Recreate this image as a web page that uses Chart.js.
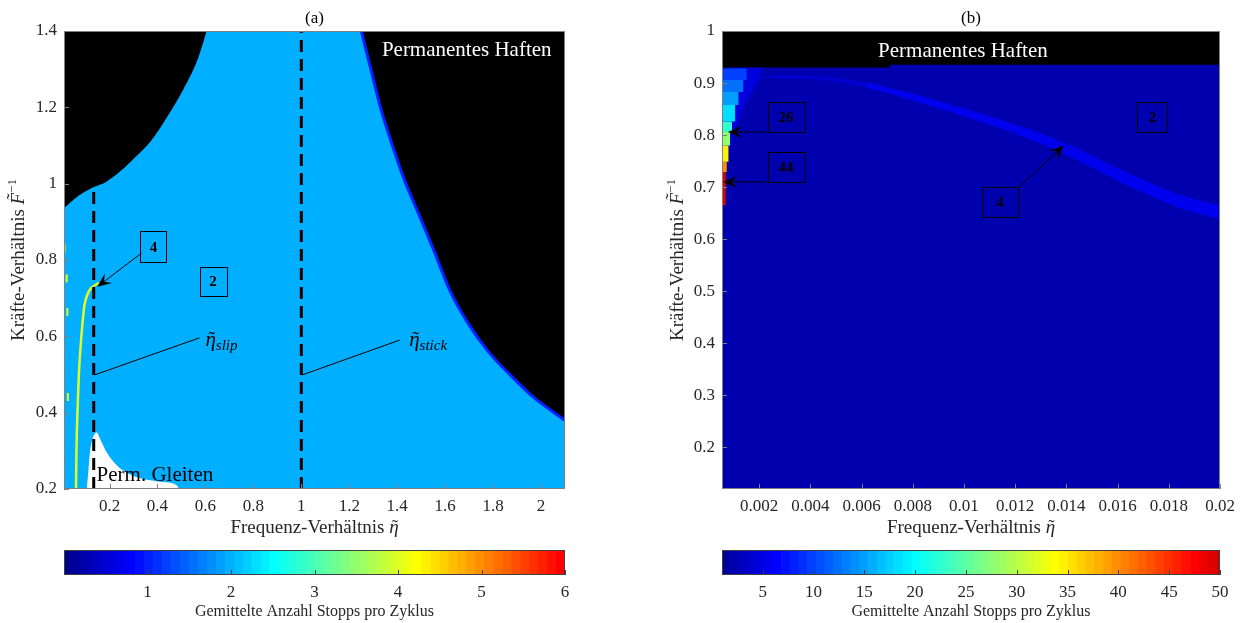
<!DOCTYPE html>
<html>
<head>
<meta charset="utf-8">
<script src="https://cdn.jsdelivr.net/npm/chart.js@4.4.0/dist/chart.umd.min.js"></script>
<style>
  body { margin: 0; background: #fff; width: 1245px; height: 623px; position: relative; overflow: hidden; }
  .pane { position: absolute; }
</style>
</head>
<body>
<div class="pane" style="left:0;top:0;width:620px;height:541px"><canvas id="chartA"></canvas></div>
<div class="pane" style="left:620px;top:0;width:625px;height:541px"><canvas id="chartB"></canvas></div>
<div class="pane" style="left:0;top:540px;width:620px;height:83px"><canvas id="barA"></canvas></div>
<div class="pane" style="left:620px;top:540px;width:625px;height:83px"><canvas id="barB"></canvas></div>
<script>
// ---------- panel (a) ----------
const etaRangeA = [0.01, 2.1];
const forceRangeA = [0.2, 1.4];
const xTicksA = [0.2, 0.4, 0.6, 0.8, 1, 1.2, 1.4, 1.6, 1.8, 2];
const yTicksA = [0.2, 0.4, 0.6, 0.8, 1, 1.2, 1.4];
const stopsBgA = 2;          // stops per cycle in the big region
const stopsEdgeA = 1;        // thin edge next to permanent sticking
const stopsLineA = 4;        // the 4-stop line near small eta
// boundary permanent sticking, left part
const haftenLeftX = [0.01, 0.075, 0.134, 0.184, 0.242, 0.308, 0.375, 0.44, 0.506, 0.57, 0.605];
const haftenLeftY = [0.936, 0.97, 0.991, 1.004, 1.031, 1.07, 1.114, 1.175, 1.245, 1.33, 1.4];
// boundary permanent sticking, right part
const haftenRightX = [1.25, 1.29, 1.33, 1.38, 1.43, 1.49, 1.55, 1.62, 1.70, 1.78, 1.87, 1.97, 2.1];
const haftenRightY = [1.4, 1.30, 1.20, 1.10, 1.01, 0.92, 0.83, 0.72, 0.63, 0.56, 0.50, 0.44, 0.38];
// permanent sliding (white)
const gleitenX = [0.105, 0.112, 0.118, 0.128, 0.146, 0.165, 0.19, 0.23, 0.274, 0.33, 0.41, 0.48, 0.49];
const gleitenY = [0.2, 0.25, 0.294, 0.329, 0.348, 0.325, 0.294, 0.262, 0.242, 0.228, 0.219, 0.21, 0.2];
// 4-stop line
const line4X = [0.06, 0.062, 0.066, 0.072, 0.08, 0.088, 0.095, 0.105, 0.118, 0.135, 0.155];
const line4Y = [0.2, 0.3, 0.4, 0.5, 0.58, 0.64, 0.68, 0.705, 0.722, 0.732, 0.74];
const dots4X = [0.0125, 0.021, 0.024, 0.026];
const dots4Y = [0.83, 0.752, 0.664, 0.441];
// eta_slip and eta_stick
const slipX = [0.134, 0.134];
const slipY = [0.2, 0.99];
const stickX = [1, 1];
const stickY = [0.2, 1.4];

// ---------- panel (b) ----------
const etaRangeB = [0.00055, 0.02];
const forceRangeB = [0.12, 1];
const xTicksB = [0.002, 0.004, 0.006, 0.008, 0.01, 0.012, 0.014, 0.016, 0.018, 0.02];
const yTicksB = [0.2, 0.3, 0.4, 0.5, 0.6, 0.7, 0.8, 0.9, 1];
const stopsBgB = 2;
const stopsStripeB = [4, 4, 4, 5.5, 5.5, 5.5, 5.5, 5.5, 5.5, 5.5, 5.5];
const stopsCornerB = 5;
const haftenBX = [0.00055, 0.0071, 0.0071, 0.02];
const haftenBY = [0.93, 0.93, 0.935, 0.935];
const stripeX = [0.0006, 0.0028, 0.0046, 0.0062, 0.0077, 0.0097, 0.0121, 0.0139, 0.0159, 0.0183, 0.02];
const stripeY = [0.906, 0.912, 0.909, 0.896, 0.877, 0.848, 0.81, 0.775, 0.727, 0.675, 0.651];
const cornerX = [0.00081, 0.001, 0.0012, 0.00145, 0.00172, 0.00198, 0.0021, 0.0023];
const cornerY = [0.76, 0.8, 0.826, 0.858, 0.883, 0.906, 0.925, 0.93];
// many-stop cells at the left edge
const wedgeRight = [0.00152, 0.00139, 0.0012, 0.00107, 0.00094, 0.00087, 0.00081, 0.00074, 0.0007];
const wedgeTop = [0.928, 0.906, 0.883, 0.858, 0.826, 0.806, 0.78, 0.749, 0.729];
const wedgeBottom = [0.906, 0.883, 0.858, 0.826, 0.806, 0.78, 0.749, 0.729, 0.665];
const wedgeStops = [10, 12, 15, 18, 23, 28, 35, 40, 49];

// ---------- colour bars ----------
const cmapTopA = 6.86;   // jet(64) spans 0..6.86, bar shows 0..6
const cmapTopB = 54.8;   // jet(64) spans 0..54.8, bar shows 1..50
const cbRangeA = [0, 6];
const cbRangeB = [1, 50];
const cbTicksA = [1, 2, 3, 4, 5, 6];
const cbTicksB = [5, 10, 15, 20, 25, 30, 35, 40, 45, 50];

const FONT = "'Liberation Serif','DejaVu Serif',serif";
const INK = '#262626';
Chart.defaults.font.family = FONT;
Chart.defaults.color = INK;
Chart.defaults.animation = false;

function jet(t) {
  const c = v => Math.round(255 * Math.min(1, Math.max(0, v)));
  return 'rgb(' + c(1.5 - Math.abs(4 * t - 3)) + ',' + c(1.5 - Math.abs(4 * t - 2)) + ',' + c(1.5 - Math.abs(4 * t - 1)) + ')';
}
function stopColor(v, top) {
  let k = Math.floor(v / top * 64);
  k = Math.min(63, Math.max(0, k));
  return jet((k + 1) / 64);
}
function pts(xs, ys) { return xs.map((x, i) => ({x: x, y: ys[i]})); }
function fixTicks(list) { return s => { s.ticks = list.map(v => ({value: v})); }; }
function fmt(v) { return String(+v.toFixed(4)); }

// text made of pieces: accents sit centred over the piece before them
function drawRich(ctx, parts, x, y, align) {
  let total = 0;
  parts.forEach(p => { if (!p.accent) { ctx.font = p.font; total += ctx.measureText(p.t).width; } });
  let cx = align === 'center' ? x - total / 2 : x;
  let lastStart = cx, lastW = 0;
  ctx.textBaseline = 'alphabetic';
  parts.forEach(p => {
    ctx.font = p.font;
    const w = ctx.measureText(p.t).width;
    if (p.accent) {
      ctx.textAlign = 'center';
      ctx.fillText(p.t, lastStart + lastW / 2 + (p.dx || 0), y + (p.dy || 0));
    } else {
      ctx.textAlign = 'left';
      ctx.fillText(p.t, cx, y + (p.dy || 0));
      lastStart = cx; lastW = w; cx += w;
    }
  });
}
const xTitleParts = [
  {t: 'Frequenz-Verh\u00e4ltnis ', font: '19px ' + FONT},
  {t: '\u03B7', font: 'italic 19px ' + FONT},
  {t: '\u02DC', font: '19px ' + FONT, accent: true, dx: 1}
];
const yTitleParts = [
  {t: 'Kr\u00e4fte-Verh\u00e4ltnis ', font: '19px ' + FONT},
  {t: 'F', font: 'italic 19px ' + FONT},
  {t: '\u02DC', font: '19px ' + FONT, accent: true, dx: 2, dy: -4},
  {t: '\u22121', font: '13px ' + FONT, dy: -8}
];

const notesPlugin = {
  id: 'notes',
  beforeDraw(chart, args, opts) {
    const a = chart.chartArea, ctx = chart.ctx;
    if (!opts.bg) return;
    ctx.save();
    ctx.fillStyle = opts.bg;
    ctx.fillRect(a.left, a.top, a.width, a.height);
    ctx.restore();
  },
  afterDatasetsDraw(chart, args, opts) {
    const ctx = chart.ctx, a = chart.chartArea;
    const sx = chart.scales.x, sy = chart.scales.y;
    const X = v => sx.getPixelForValue(v), Y = v => sy.getPixelForValue(v);
    ctx.save();
    // frame and inward ticks
    ctx.strokeStyle = '#808080';
    ctx.lineWidth = 1;
    ctx.strokeRect(a.left + 0.5, a.top + 0.5, a.width - 1, a.height - 1);
    ctx.beginPath();
    sx.ticks.forEach(t => { const p = Math.round(X(t.value)) + 0.5; ctx.moveTo(p, a.bottom); ctx.lineTo(p, a.bottom - 5); });
    sy.ticks.forEach(t => { const p = Math.round(Y(t.value)) + 0.5; ctx.moveTo(a.left, p); ctx.lineTo(a.left + 5, p); });
    ctx.stroke();
    // leader lines
    ctx.strokeStyle = '#000';
    ctx.lineWidth = 1;
    (opts.leaders || []).forEach(l => {
      ctx.beginPath();
      ctx.moveTo(X(l.from[0]), Y(l.from[1]));
      ctx.lineTo(X(l.to[0]), Y(l.to[1]));
      ctx.stroke();
    });
    // arrows
    (opts.arrows || []).forEach(ar => {
      const x0 = X(ar.from[0]), y0 = Y(ar.from[1]), x1 = X(ar.to[0]), y1 = Y(ar.to[1]);
      const ang = Math.atan2(y1 - y0, x1 - x0);
      const L = 14, W = 6;
      const nxp = x1 - Math.cos(ang) * L * 0.6, nyp = y1 - Math.sin(ang) * L * 0.6;
      ctx.beginPath();
      ctx.moveTo(x0, y0);
      ctx.lineTo(nxp, nyp);
      ctx.stroke();
      const bx = x1 - Math.cos(ang) * L, by = y1 - Math.sin(ang) * L;
      const nx = -Math.sin(ang) * W, ny = Math.cos(ang) * W;
      ctx.beginPath();
      ctx.moveTo(x1, y1);
      ctx.lineTo(bx + nx, by + ny);
      ctx.lineTo(nxp, nyp);
      ctx.lineTo(bx - nx, by - ny);
      ctx.closePath();
      ctx.fillStyle = '#000';
      ctx.fill();
    });
    // boxed numbers
    (opts.boxes || []).forEach(b => {
      const cx = X(b.x), cy = Y(b.y);
      ctx.strokeStyle = '#000';
      ctx.strokeRect(Math.round(cx - b.w / 2) + 0.5, Math.round(cy - b.h / 2) + 0.5, b.w, b.h);
      ctx.fillStyle = '#000';
      ctx.font = 'bold 15px ' + FONT;
      ctx.textAlign = 'center';
      ctx.textBaseline = 'middle';
      ctx.fillText(b.text, cx, cy + 1);
    });
    // free text
    (opts.texts || []).forEach(t => {
      ctx.fillStyle = t.color;
      ctx.font = t.size + 'px ' + FONT;
      ctx.textAlign = t.align;
      ctx.textBaseline = 'alphabetic';
      ctx.fillText(t.text, X(t.x), Y(t.y));
    });
    // eta with tilde and subscript
    ctx.fillStyle = '#000';
    (opts.etas || []).forEach(t => {
      drawRich(ctx, [
        {t: '\u03B7', font: 'italic 21px ' + FONT},
        {t: '\u02DC', font: '21px ' + FONT, accent: true, dx: 1},
        {t: t.sub, font: 'italic 15px ' + FONT, dy: 4}
      ], X(t.x), Y(t.y), 'left');
    });
    ctx.restore();
  },
  afterDraw(chart, args, opts) {
    const ctx = chart.ctx, a = chart.chartArea;
    ctx.save();
    ctx.fillStyle = '#000';
    // panel title
    ctx.font = '17px ' + FONT;
    ctx.textAlign = 'center';
    ctx.textBaseline = 'middle';
    ctx.fillText(opts.title, (a.left + a.right) / 2, a.top - 12);
    // axis titles
    ctx.fillStyle = INK;
    drawRich(ctx, xTitleParts, (a.left + a.right) / 2, 533, 'center');
    ctx.translate(opts.yTitleX, (a.top + a.bottom) / 2);
    ctx.rotate(-Math.PI / 2);
    drawRich(ctx, yTitleParts, 0, 6, 'center');
    ctx.restore();
  }
};

function axisOptions(range, ticks, afterFit) {
  return {
    type: 'linear', min: range[0], max: range[1],
    afterBuildTicks: fixTicks(ticks),
    afterFit: afterFit,
    grid: {display: false, drawTicks: false},
    border: {display: false},
    ticks: {callback: fmt, font: {size: 17}, padding: 7, maxRotation: 0, autoSkip: false},
    title: {display: false}
  };
}

const lineBase = {pointRadius: 0, borderWidth: 0, tension: 0, fill: false};
const smooth = {cubicInterpolationMode: 'monotone'};

// ---------- chart (a) ----------
const colA = v => stopColor(v, cmapTopA);
new Chart(document.getElementById('chartA'), {
  type: 'line',
  data: {
    datasets: [
      Object.assign({}, lineBase, {data: pts(slipX, slipY), borderColor: '#000', borderWidth: 3, borderDash: [12, 7], order: 1}),
      Object.assign({}, lineBase, {data: pts(stickX, stickY), borderColor: '#000', borderWidth: 3, borderDash: [12, 7], order: 1}),
      Object.assign({}, lineBase, smooth, {data: pts(line4X, line4Y), borderColor: colA(stopsLineA), borderWidth: 2.5, order: 5}),
      Object.assign({}, lineBase, {data: pts(dots4X, dots4Y), showLine: false, pointStyle: 'line', rotation: 90,
        pointRadius: 4, pointBorderWidth: 2, pointBorderColor: colA(stopsLineA), order: 5}),
      Object.assign({}, lineBase, smooth, {data: pts(gleitenX, gleitenY), fill: 'start', backgroundColor: '#fff', order: 8}),
      Object.assign({}, lineBase, smooth, {data: pts(haftenRightX, haftenRightY), borderColor: colA(stopsEdgeA), borderWidth: 3, order: 9}),
      Object.assign({}, lineBase, smooth, {data: pts(haftenRightX, haftenRightY), fill: 'end', backgroundColor: '#000', order: 10}),
      Object.assign({}, lineBase, smooth, {data: pts(haftenLeftX, haftenLeftY), fill: 'end', backgroundColor: '#000', order: 10})
    ]
  },
  options: {
    responsive: true, maintainAspectRatio: false,
    layout: {padding: {left: 0, right: 55, top: 31, bottom: 0}},
    scales: {
      x: axisOptions(etaRangeA, xTicksA, s => { s.height = 52; }),
      y: axisOptions(forceRangeA, yTicksA, s => { s.width = 64; })
    },
    plugins: {
      legend: {display: false}, tooltip: {enabled: false},
      notes: {
        bg: colA(stopsBgA),
        title: '(a)',
        yTitleX: 18,
        leaders: [{from: [0.138, 0.499], to: [0.575, 0.596]}, {from: [1.004, 0.499], to: [1.41, 0.59]}],
        arrows: [{from: [0.333, 0.818], to: [0.149, 0.73]}],
        boxes: [{text: '4', x: 0.383, y: 0.835, w: 26, h: 31}, {text: '2', x: 0.632, y: 0.744, w: 27, h: 29}],
        texts: [
          {text: 'Permanentes Haften', x: 1.69, y: 1.335, size: 21, color: '#fff', align: 'center'},
          {text: 'Perm. Gleiten', x: 0.146, y: 0.221, size: 21, color: '#000', align: 'left'}
        ],
        etas: [{sub: 'slip', x: 0.6, y: 0.575}, {sub: 'stick', x: 1.45, y: 0.575}]
      }
    }
  },
  plugins: [notesPlugin]
});

// ---------- chart (b) ----------
const colB = v => stopColor(v, cmapTopB);
const wedgeSets = wedgeRight.map((r, i) => Object.assign({}, lineBase, {
  data: [{x: etaRangeB[0], y: wedgeTop[i]}, {x: r, y: wedgeTop[i]}],
  fill: {value: wedgeBottom[i]}, backgroundColor: colB(wedgeStops[i]), order: 20
}));
new Chart(document.getElementById('chartB'), {
  type: 'line',
  data: {
    datasets: [
      Object.assign({}, lineBase, {data: pts(haftenBX, haftenBY), fill: 'end', backgroundColor: '#000', order: 10})
    ].concat(wedgeSets, [
      Object.assign({}, lineBase, smooth, {data: pts(cornerX, cornerY), fill: 'end', backgroundColor: colB(stopsCornerB), order: 30}),
      Object.assign({}, lineBase, smooth, {data: pts(stripeX, stripeY), borderColor: colB(5.5), borderWidth: 2, order: 40,
        segment: {
          borderWidth: c => 2 + c.p0DataIndex * 1.2,
          borderColor: c => colB(stopsStripeB[c.p0DataIndex])
        }})
    ])
  },
  options: {
    responsive: true, maintainAspectRatio: false,
    layout: {padding: {left: 40, right: 25, top: 31, bottom: 0}},
    scales: {
      x: axisOptions(etaRangeB, xTicksB, s => { s.height = 52; }),
      y: axisOptions(forceRangeB, yTicksB, s => { s.width = 62; })
    },
    plugins: {
      legend: {display: false}, tooltip: {enabled: false},
      notes: {
        bg: colB(stopsBgB),
        title: '(b)',
        yTitleX: 57,
        arrows: [
          {from: [0.0023, 0.806], to: [0.00078, 0.806]},
          {from: [0.0023, 0.71], to: [0.0006, 0.71]},
          {from: [0.01215, 0.7], to: [0.0139, 0.78]}
        ],
        boxes: [
          {text: '26', x: 0.00305, y: 0.834, w: 37, h: 30},
          {text: '44', x: 0.00305, y: 0.738, w: 37, h: 30},
          {text: '2', x: 0.01736, y: 0.834, w: 30, h: 30},
          {text: '4', x: 0.0114, y: 0.671, w: 36, h: 30}
        ],
        texts: [{text: 'Permanentes Haften', x: 0.00996, y: 0.95, size: 21, color: '#fff', align: 'center'}]
      }
    }
  },
  plugins: [notesPlugin]
});

// ---------- colour bars ----------
const cbPlugin = {
  id: 'cbFrame',
  afterDatasetsDraw(chart) {
    const ctx = chart.ctx, a = chart.chartArea, sx = chart.scales.x;
    ctx.save();
    ctx.strokeStyle = '#404040';
    ctx.lineWidth = 1;
    ctx.strokeRect(a.left + 0.5, a.top + 0.5, a.width - 1, a.height - 1);
    ctx.beginPath();
    sx.ticks.forEach(t => { const p = Math.round(sx.getPixelForValue(t.value)) + 0.5; ctx.moveTo(p, a.bottom); ctx.lineTo(p, a.bottom - 5); });
    ctx.stroke();
    ctx.restore();
  }
};
function colourBar(id, top, range, ticks, pad) {
  const w = top / 64;
  const bands = [], colours = [];
  for (let k = 0; k < 64; k++) { bands.push({x: (k + 0.5) * w, y: 1}); colours.push(jet((k + 1) / 64)); }
  new Chart(document.getElementById(id), {
    type: 'bar',
    data: {datasets: [{data: bands, backgroundColor: colours, borderWidth: 0, barPercentage: 1, categoryPercentage: 1}]},
    options: {
      responsive: true, maintainAspectRatio: false,
      layout: {padding: pad},
      scales: {
        x: {type: 'linear', min: range[0], max: range[1], offset: false,
          afterBuildTicks: fixTicks(ticks), afterFit: s => { s.height = 48; },
          grid: {display: false, drawTicks: false}, border: {display: false},
          ticks: {font: {size: 17}, padding: 7, maxRotation: 0, autoSkip: false},
          title: {display: true, text: 'Gemittelte Anzahl Stopps pro Zyklus', font: {size: 16}, color: INK, padding: {top: 0, bottom: 2}}},
        y: {display: false, min: 0, max: 1}
      },
      plugins: {legend: {display: false}, tooltip: {enabled: false}}
    },
    plugins: [cbPlugin]
  });
}
colourBar('barA', cmapTopA, cbRangeA, cbTicksA, {left: 64, right: 55, top: 10, bottom: 0});
colourBar('barB', cmapTopB, cbRangeB, cbTicksB, {left: 102, right: 25, top: 10, bottom: 0});
</script>
</body>
</html>
